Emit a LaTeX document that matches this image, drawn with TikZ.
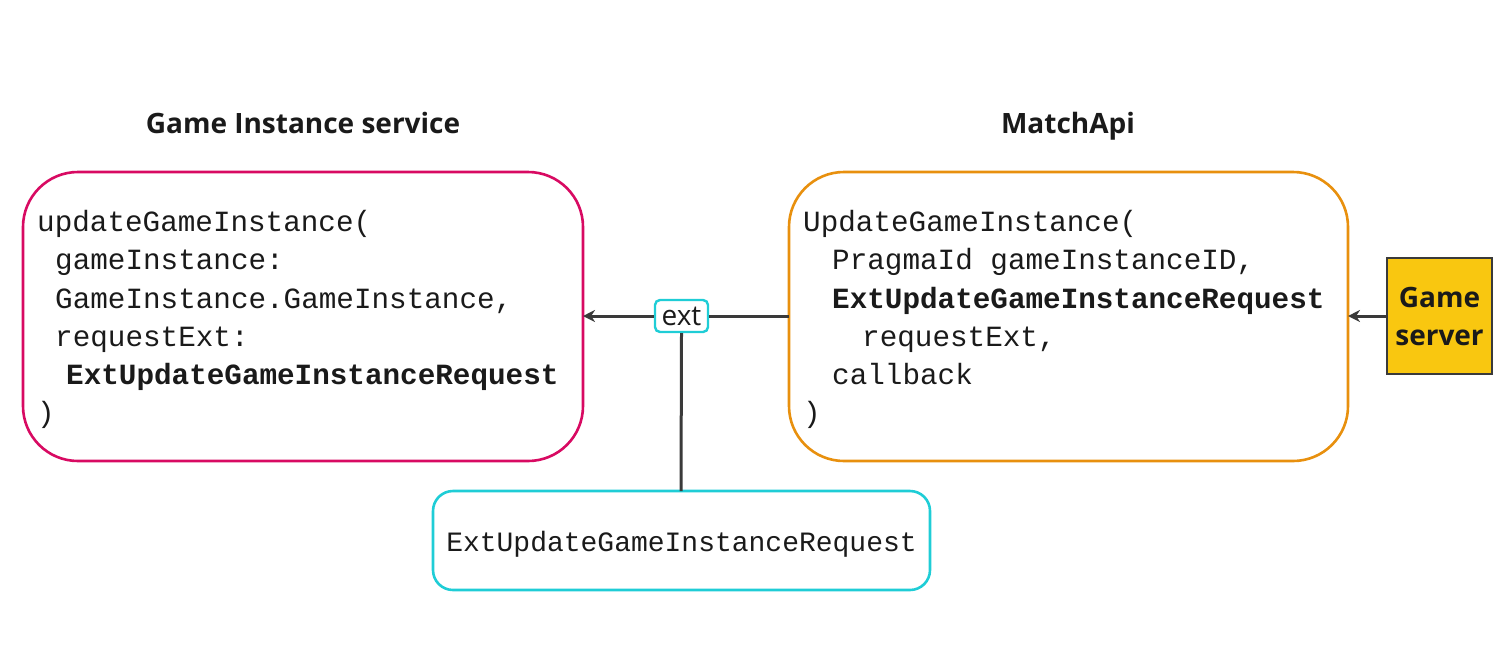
\documentclass[tikz,border=0pt]{standalone}
\usepackage{fontspec}
\setmainfont{Open Sans}
\setmonofont{Liberation Mono}
\usetikzlibrary{arrows.meta}
\definecolor{pinkc}{HTML}{D80A62}
\definecolor{orangec}{HTML}{E8900E}
\definecolor{cyanc}{HTML}{1FCDD6}
\definecolor{goldc}{HTML}{F9C710}
\definecolor{txt}{HTML}{1A1A1A}
\definecolor{linec}{HTML}{3A3A3A}
\begin{document}
\begin{tikzpicture}[x=1pt,y=-1pt,
  big/.style={draw=#1, line width=2.6pt, rounded corners=55pt},
  title/.style={font=\fontsize{28}{32}\selectfont\bfseries, text=txt, anchor=base},
  code/.style={font=\fontsize{29.3}{38.3}\selectfont\ttfamily, text=txt, align=left, inner sep=0pt, anchor=north west},
  conn/.style={draw=linec, line width=3pt},
  arr/.style={conn, -{Stealth[length=12pt,width=12pt]}}]
\useasboundingbox (0,0) rectangle (1503,665);
% boxes
\draw[big=pinkc] (23,172) rectangle (583,461);
\coordinate (gisE) at (583,316);
\draw[big=orangec] (789,172) rectangle (1348,461);
\coordinate (maW) at (789,316);
\coordinate (maE) at (1348,316);
\draw[draw=cyanc, line width=2.6pt, rounded corners=20pt] (433,491) rectangle (930,590);
\node[font=\fontsize{28}{34}\selectfont\ttfamily, text=txt, anchor=base] (req) at (681.5,551) {ExtUpdateGameInstanceRequest};
\coordinate (reqN) at (681,491);
% titles
\node[title] (t1) at (303,133) {Game Instance service};
\node[title] (t2) at (1068,133) {MatchApi};
% code
\node[code] (c1) at (37,210) {updateGameInstance(\\
\hspace*{18pt}gameInstance:\\
\hspace*{18pt}GameInstance.GameInstance,\\
\hspace*{18pt}requestExt:\\
\hspace*{29pt}\textbf{ExtUpdateGameInstanceRequest}\\
)};
\node[code] (c2) at (803,210) {UpdateGameInstance(\\
\hspace*{29pt}PragmaId gameInstanceID,\\
\hspace*{29pt}\textbf{ExtUpdateGameInstanceRequest}\\
\hspace*{59pt}requestExt,\\
\hspace*{29pt}callback\\
)};
% game server
\node[draw=linec, line width=1.2pt, fill=goldc, minimum width=105pt, minimum height=116pt, align=center,
  font=\fontsize{28}{38}\selectfont\bfseries, text=txt, inner sep=0pt] (gs) at (1439.5,316) {Game\\server};
% ext label
\node[draw=cyanc, line width=2.4pt, rounded corners=5pt, fill=white, minimum width=53pt, minimum height=32pt,
  inner sep=0pt, font=\fontsize{28}{32}\selectfont, text=txt] (ext) at (681.5,316) {ext};
% connectors
\draw[conn] (maW) -- (ext.east);
\draw[arr] (ext.west) -- (gisE);
\draw[arr] (gs.west) -- (maE);
\draw[conn] (ext.south) -- (reqN);
\end{tikzpicture}
\end{document}
